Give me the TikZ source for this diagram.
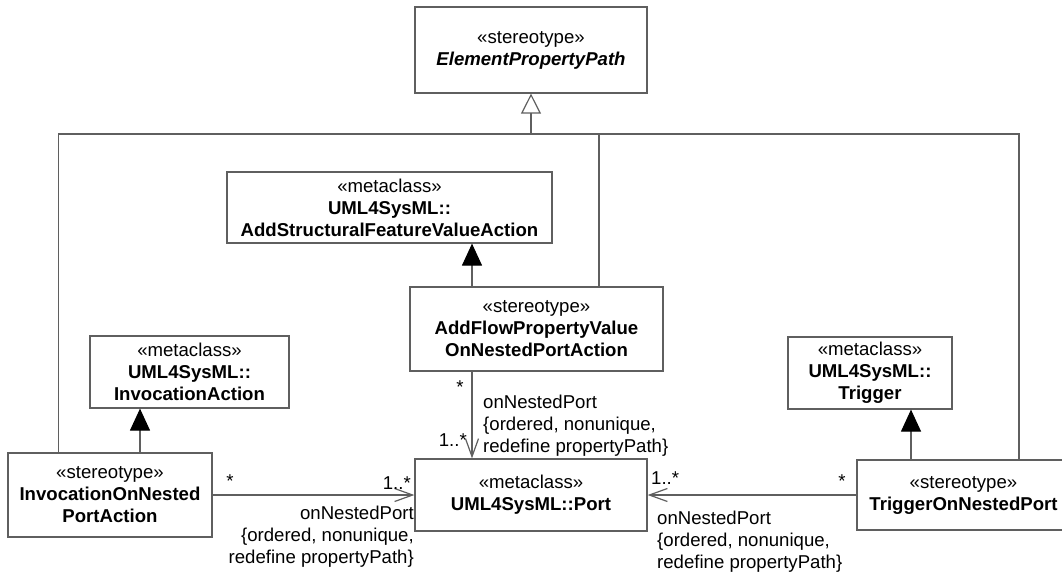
\documentclass[tikz,border=0pt]{standalone}
\usepackage{fontspec}
\setmainfont{Liberation Sans}
\usetikzlibrary{arrows.meta,positioning}
\definecolor{linegray}{HTML}{5F5F5F}

\begin{document}
\begin{tikzpicture}[x=1pt, y=-1pt,
  every node/.style={font=\fontsize{18.6}{22}\selectfont},
  umlbox/.style={draw=linegray, line width=1.2pt, fill=white, align=center, inner sep=0pt},
  lbl/.style={inner sep=0pt},
  conn/.style={draw=linegray, line width=1.2pt},
  gen/.style={conn, -{Triangle[open, length=20pt, width=20pt]}},
  ext/.style={conn, -{Triangle[length=22pt, width=20pt, color=black]}},
  assoc/.style={conn, -{Straight Barb[length=18pt, width=13pt]}}]
  \useasboundingbox (0,0) rectangle (1062,574);

  % classes
  \node[umlbox, minimum width=232pt, minimum height=86pt] (epp) at (531,50)
    {«stereotype»\\\textbf{\textit{ElementPropertyPath}}};
  \node[umlbox, minimum width=325pt, minimum height=71pt] (asfva) at (389.5,207.5)
    {«metaclass»\\\textbf{UML4SysML::}\\\textbf{AddStructuralFeatureValueAction}};
  \node[umlbox, minimum width=253pt, minimum height=84pt] (flow) at (536.5,329)
    {«stereotype»\\\textbf{AddFlowPropertyValue}\\\textbf{OnNestedPortAction}};
  \node[umlbox, minimum width=199pt, minimum height=72pt] (inv) at (189.5,372)
    {«metaclass»\\\textbf{UML4SysML::}\\\textbf{InvocationAction}};
  \node[umlbox, minimum width=204pt, minimum height=84pt] (ionp) at (110,495)
    {«stereotype»\\\textbf{InvocationOnNested}\\\textbf{PortAction}};
  \node[umlbox, minimum width=232pt, minimum height=72pt] (port) at (531,495)
    {«metaclass»\\\textbf{UML4SysML::Port}};
  \node[umlbox, minimum width=164pt, minimum height=72pt] (trig) at (870,373)
    {«metaclass»\\\textbf{UML4SysML::}\\\textbf{Trigger}};
  \node[umlbox, minimum width=213pt, minimum height=70pt] (tonp) at (963.5,495)
    {«stereotype»\\\textbf{TriggerOnNestedPort}};

  % generalization bus
  \coordinate (busL) at (58.5,134);
  \coordinate (busR) at (1019,134);
  \coordinate (busF) at (599,134);
  \coordinate (busM) at (531,134);
  \draw[conn] (ionp.north -| busL) -- (busL) -- (busR) -- (tonp.north -| busR);
  \draw[conn] (flow.north -| busF) -- (busF);
  \draw[gen] (busM) -- (epp.south);

  % extensions
  \coordinate (extI) at (140,0);
  \coordinate (extF) at (472,0);
  \coordinate (extT) at (911,0);
  \draw[ext] (ionp.north -| extI) -- (inv.south -| extI);
  \draw[ext] (flow.north -| extF) -- (asfva.south -| extF);
  \draw[ext] (tonp.north -| extT) -- (trig.south -| extT);

  % associations
  \draw[assoc] (ionp.east) -- (port.west);
  \draw[assoc] (flow.south -| extF) -- (port.north -| extF);
  \draw[assoc] (tonp.west) -- (port.east);

  % multiplicities and role names
  \node[lbl, anchor=base] (m1) at (230,487) {*};
  \node[lbl, anchor=base east] (m2) at (411,489) {1..*};
  \node[lbl, anchor=north east, align=right] (r1) at (414,506)
    {onNestedPort\\\{ordered, nonunique,\\redefine propertyPath\}};
  \node[lbl, anchor=base] (m3) at (460,393) {*};
  \node[lbl, anchor=base east] (m4) at (467,446) {1..*};
  \node[lbl, anchor=north west, align=left] (r2) at (483,395)
    {onNestedPort\\\{ordered, nonunique,\\redefine propertyPath\}};
  \node[lbl, anchor=base] (m5) at (842,487) {*};
  \node[lbl, anchor=base west] (m6) at (651,484) {1..*};
  \node[lbl, anchor=north west, align=left] (r3) at (657,511)
    {onNestedPort\\\{ordered, nonunique,\\redefine propertyPath\}};
\end{tikzpicture}
\end{document}
